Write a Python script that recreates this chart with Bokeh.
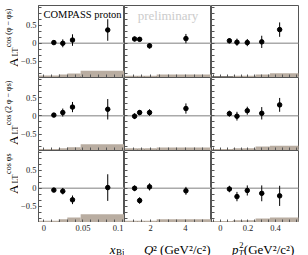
import math
from bokeh.plotting import figure
from bokeh.layouts import column, row
from bokeh.core.properties import value
from bokeh.models import (Range1d, FixedTicker, Span, Label, LabelSet,
                          ColumnDataSource, Spacer)
from bokeh.embed import file_html
from bokeh.resources import INLINE

# ---------------- data ----------------
x_bj = [0.0128, 0.0242, 0.0366, 0.0816]
q2 = [1.08, 1.37, 1.94, 4.03]
pt2 = [0.065, 0.12, 0.195, 0.30, 0.43]

# bin edges of the systematic bands
xbj_edges = [-0.02, 0.019, 0.030, 0.047, 0.20]
q2_edges = [0.0, 1.25, 1.65, 2.35, 20.0]
pt2_edges = [-0.2, 0.09, 0.16, 0.255, 0.36, 1.0]

# A_LT^{cos(phi - phi_s)}
r1_xbj_y = [0.02, 0.00, 0.09, 0.37]
r1_xbj_e = [0.06, 0.11, 0.16, 0.30]
r1_xbj_s = [0.055, 0.08, 0.11, 0.19]
r1_q2_y = [0.12, 0.11, -0.07, 0.13]
r1_q2_e = [0.065, 0.06, 0.075, 0.13]
r1_q2_s = [0.05, 0.05, 0.05, 0.08]
r1_pt_y = [0.07, 0.03, 0.02, 0.04, 0.38]
r1_pt_e = [0.07, 0.10, 0.10, 0.17, 0.20]
r1_pt_s = [0.03, 0.05, 0.05, 0.08, 0.12]

# A_LT^{cos(2phi - phi_s)}
r2_xbj_y = [0.02, 0.09, 0.24, 0.18]
r2_xbj_e = [0.04, 0.11, 0.14, 0.28]
r2_xbj_s = [0.04, 0.065, 0.09, 0.17]
r2_q2_y = [-0.01, 0.09, 0.09, 0.20]
r2_q2_e = [0.08, 0.07, 0.09, 0.14]
r2_q2_s = [0.06, 0.06, 0.06, 0.08]
r2_pt_y = [0.06, -0.01, 0.14, 0.07, 0.30]
r2_pt_e = [0.08, 0.12, 0.11, 0.17, 0.19]
r2_pt_s = [0.04, 0.065, 0.065, 0.11, 0.13]

# A_LT^{cos phi_s}
r3_xbj_y = [-0.05, -0.08, -0.32, 0.02]
r3_xbj_e = [0.03, 0.09, 0.12, 0.37]
r3_xbj_s = [0.05, 0.09, 0.14, 0.23]
r3_q2_y = [0.00, -0.34, 0.04, -0.07]
r3_q2_e = [0.08, 0.09, 0.10, 0.11]
r3_q2_s = [0.05, 0.05, 0.05, 0.09]
r3_pt_y = [-0.02, -0.23, -0.06, -0.14, -0.21]
r3_pt_e = [0.09, 0.13, 0.14, 0.22, 0.28]
r3_pt_s = [0.04, 0.06, 0.06, 0.11, 0.14]

y_ticks = [-0.5, 0, 0.5]
y_tick_text = {-0.5: "\u22120.5", 0: "0", 0.5: "0.5"}
x_ticks = [[0, 0.05, 0.1], [2, 4], [0, 0.2, 0.4]]
x_tick_text = [["0", "0.05", "0.1"], ["2", "4"], ["0", "0.2", "0.4"]]
row_sup = ["cos (\u03c6 \u2212 \u03c6s)", "cos (2 \u03c6 \u2212 \u03c6s)", "cos \u03c6s"]

# ---------------- style ----------------
SERIF = "Liberation Serif"
BAND = "#b9ada1"
FRAME = "#555555"
Y0, Y1 = -0.95, 1.05
XR = [(-0.0068, 0.103), (0.5, 5.5), (-0.065, 0.567)]
X_MINOR = [[i * 0.01 for i in range(-1, 11)],
           [0.5 * i for i in range(1, 12)],
           [0.05 * i for i in range(-2, 12)]]
Y_MINOR = [k / 6 for k in range(-6, 7)]
XVALS = [x_bj, q2, pt2]
EDGES = [xbj_edges, q2_edges, pt2_edges]
DATA = [
    [(r1_xbj_y, r1_xbj_e, r1_xbj_s), (r1_q2_y, r1_q2_e, r1_q2_s), (r1_pt_y, r1_pt_e, r1_pt_s)],
    [(r2_xbj_y, r2_xbj_e, r2_xbj_s), (r2_q2_y, r2_q2_e, r2_q2_s), (r2_pt_y, r2_pt_e, r2_pt_s)],
    [(r3_xbj_y, r3_xbj_e, r3_xbj_s), (r3_q2_y, r3_q2_e, r3_q2_s), (r3_pt_y, r3_pt_e, r3_pt_s)],
]
SUP_W = [38, 44, 20]      # approx. pixel length of the superscripts (8px font)
FWS = [86, 87, 87]        # panel frame widths
FHS = [72, 73, 72]        # panel frame heights
TOP = 5                   # space above the first row
LB = 20                   # border left of column 1 (tick labels)
LW = 18                   # width of the left title strip
RB = 10                   # border right of column 3
BH = 33                   # height of the bottom title strip


def style_axis(ax, minor, labelled=False):
    ax.axis_line_color = FRAME
    ax.minor_tick_line_color = FRAME
    ax.major_tick_line_color = FRAME
    ax.minor_tick_in = 3
    ax.minor_tick_out = 0
    ax.major_tick_in = 3
    ax.major_tick_out = 0
    if labelled:
        ax.ticker = FixedTicker(ticks=y_ticks, minor_ticks=minor)
        ax.major_label_overrides = y_tick_text
        ax.major_label_text_font = SERIF
        ax.major_label_text_font_size = "8.5px"
        ax.major_label_text_color = "#222222"
        ax.major_label_standoff = 2
    else:
        ax.ticker = FixedTicker(ticks=[], minor_ticks=minor)


def blank(fw, fh, xr, yr, **borders):
    s = figure(frame_width=fw, frame_height=fh, x_range=xr, y_range=yr,
               x_axis_location=None, y_axis_location=None,
               output_backend="svg", toolbar_location=None,
               min_border_left=borders.get("left", 0),
               min_border_right=borders.get("right", 0),
               min_border_top=borders.get("top", 0),
               min_border_bottom=borders.get("bottom", 0))
    s.outline_line_color = None
    s.grid.visible = False
    s.background_fill_color = None
    s.border_fill_color = None
    return s


def panel(ri, ci):
    x0, x1 = XR[ci]
    p = figure(frame_width=FWS[ci], frame_height=FHS[ri],
               x_range=Range1d(x0, x1), y_range=Range1d(Y0, Y1),
               output_backend="svg", toolbar_location=None,
               min_border_left=LB if ci == 0 else 0,
               min_border_right=RB if ci == 2 else 0,
               min_border_top=TOP if ri == 0 else 0,
               min_border_bottom=0)
    p.outline_line_color = FRAME
    p.outline_line_width = 1
    p.grid.visible = False
    p.background_fill_color = None
    p.border_fill_color = None
    style_axis(p.xaxis[0], X_MINOR[ci])
    style_axis(p.yaxis[0], Y_MINOR, labelled=(ci == 0))

    yv, ev, sv = DATA[ri][ci]
    xv = XVALS[ci]
    ed = EDGES[ci]
    n = len(sv)
    p.quad(left=ed[:-1], right=ed[1:], bottom=[Y0] * n,
           top=[Y0 + s for s in sv], fill_color=BAND, line_color=None)
    p.add_layout(Span(location=0, dimension="width", line_color="#aaaaaa",
                      line_width=1.5, level="underlay"))
    src = ColumnDataSource(dict(x=xv, y=yv,
                                lo=[a - b for a, b in zip(yv, ev)],
                                hi=[a + b for a, b in zip(yv, ev)]))
    p.segment("x", "lo", "x", "hi", source=src, line_color="black", line_width=1)
    p.scatter("x", "y", source=src, size=4.5, color="black")

    if ri == 0 and ci == 0:
        p.add_layout(Label(x=x0, y=Y1, x_offset=5, y_offset=-3, text="COMPASS proton",
                           text_align="left", text_baseline="top",
                           text_font=SERIF, text_font_size="10.5px", text_color="black"))
    if ri == 0 and ci == 1:
        p.add_layout(Label(x=(x0 + x1) / 2, y=Y1, y_offset=-2, text="preliminary",
                           text_align="center", text_baseline="top",
                           text_font=SERIF, text_font_size="13px", text_color="#cccccc"))
    return p


def left_strip(ri):
    s = blank(LW, FHS[ri], Range1d(0, LW), Range1d(Y0, Y1), top=TOP if ri == 0 else 0)
    sw = SUP_W[ri]
    common = dict(y=Y1, angle=math.pi / 2, text_align="right",
                  text_baseline="alphabetic", text_font=SERIF, text_color="black")
    s.add_layout(Label(x=7.5, y_offset=-3, text=row_sup[ri],
                       text_font_size="8px", **common))
    s.add_layout(Label(x=15, y_offset=-(3 + sw + 1), text="LT",
                       text_font_size="8px", **common))
    s.add_layout(Label(x=12.5, y_offset=-(3 + sw + 1 + 10), text="A",
                       text_font_size="13px", **common))
    return s


def bottom_strip(ci):
    x0, x1 = XR[ci]
    s = blank(FWS[ci], BH, Range1d(x0, x1), Range1d(0, BH), right=RB if ci == 2 else 0)
    offs = [0] * len(x_ticks[ci])
    if ci == 0:
        offs[-1] = -4
    src = ColumnDataSource(dict(x=x_ticks[ci], y=[BH - 2] * len(x_ticks[ci]),
                                t=x_tick_text[ci], o=offs))
    s.add_layout(LabelSet(x="x", y="y", text="t", source=src, x_offset="o",
                          text_align="center", text_baseline="top",
                          text_font=value(SERIF), text_font_size="8.5px",
                          text_color="#222222"))
    base = dict(y=6, text_baseline="alphabetic", text_font=SERIF, text_color="black",
                text_align="right", x=x1)
    if ci == 0:
        s.add_layout(Label(x_offset=0, y_offset=-2.5, text="Bj", text_font_size="9px", **base))
        s.add_layout(Label(x_offset=-9, text="x", text_font_style="italic",
                           text_font_size="13px", **base))
    elif ci == 1:
        s.add_layout(Label(x_offset=-1, text="\u00b2 (GeV\u00b2/c\u00b2)",
                           text_font_size="13px", **base))
        s.add_layout(Label(x_offset=-58, text="Q", text_font_style="italic",
                           text_font_size="13px", **base))
    else:
        s.add_layout(Label(x_offset=-1, text=" (GeV\u00b2/c\u00b2)",
                           text_font_size="13px", **base))
        s.add_layout(Label(x_offset=-55, y_offset=-3, text="T", text_font_style="italic",
                           text_font_size="8.5px", **base))
        s.add_layout(Label(x_offset=-55, y_offset=5, text="2",
                           text_font_size="8.5px", **base))
        s.add_layout(Label(x_offset=-60, text="p", text_font_style="italic",
                           text_font_size="13px", **base))
    return s


rows = []
for ri in range(3):
    rows.append(row(left_strip(ri), *[panel(ri, ci) for ci in range(3)]))
rows.append(row(Spacer(width=LW + LB, height=BH), *[bottom_strip(ci) for ci in range(3)]))
layout = column(*rows)

open("out.html", "w").write(file_html(layout, INLINE))
